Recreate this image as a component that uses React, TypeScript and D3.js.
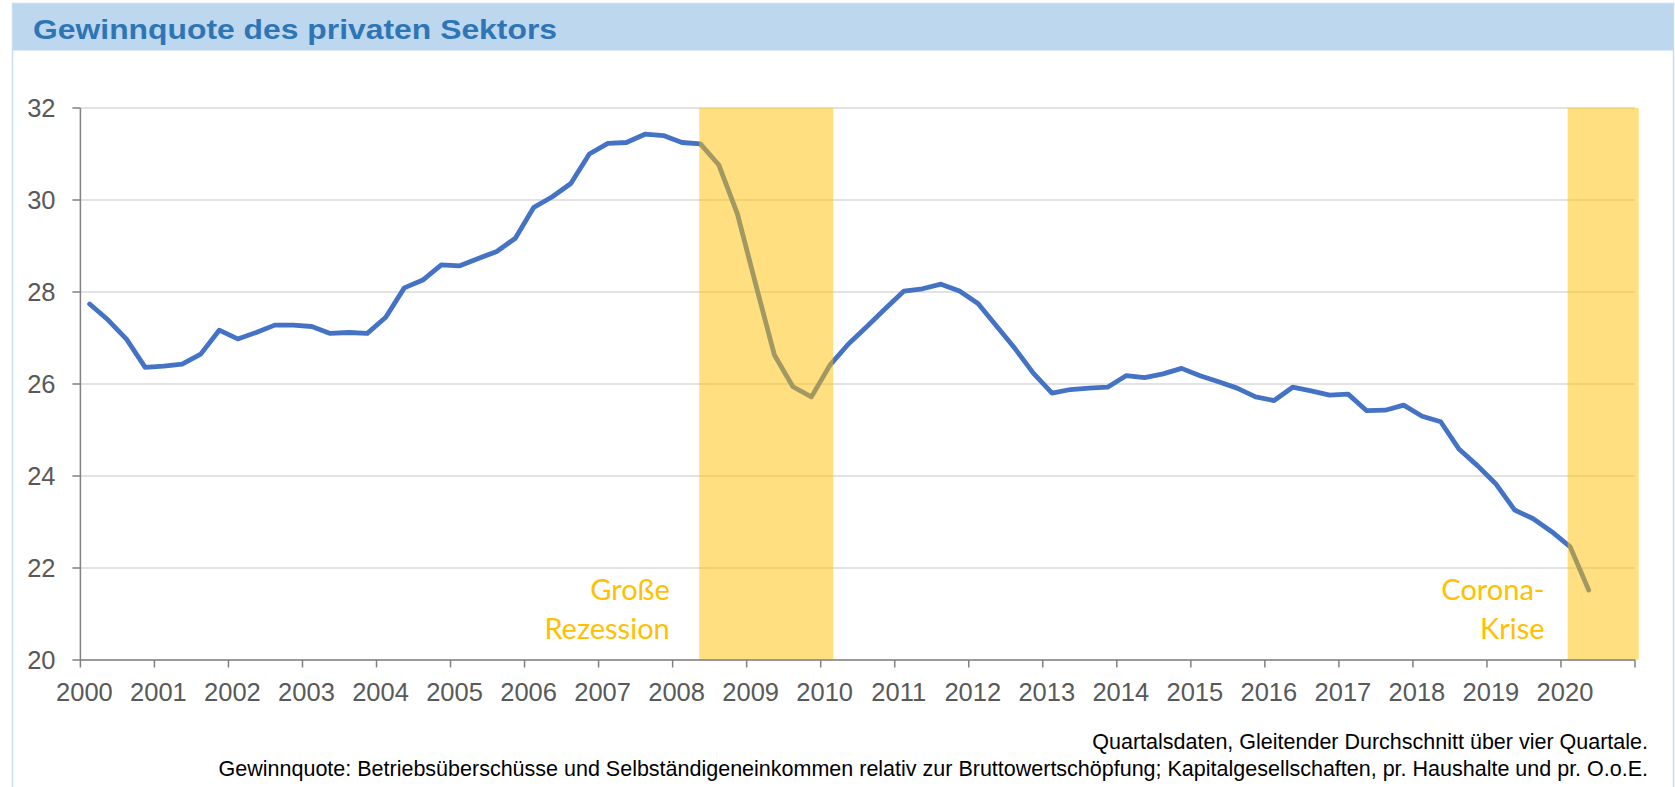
import React from "react";
import * as d3 from "d3";

// ---- data ----
const title = "Gewinnquote des privaten Sektors";
const startYear = 2000;
const yearTicks = [2000, 2001, 2002, 2003, 2004, 2005, 2006, 2007, 2008, 2009, 2010,
  2011, 2012, 2013, 2014, 2015, 2016, 2017, 2018, 2019, 2020, 2021];
const yearLabels = ["2000", "2001", "2002", "2003", "2004", "2005", "2006", "2007", "2008", "2009", "2010",
  "2011", "2012", "2013", "2014", "2015", "2016", "2017", "2018", "2019", "2020"];
const yTicks = [20, 22, 24, 26, 28, 30, 32];
// quarterly values, 2000Q1 .. 2020Q2
const profitShare = [
  27.74, 27.39, 26.97, 26.36,
  26.39, 26.43, 26.65, 27.17,
  26.98, 27.12, 27.28, 27.28,
  27.25, 27.10, 27.12, 27.10,
  27.45, 28.09, 28.26, 28.59,
  28.57, 28.73, 28.88, 29.17,
  29.84, 30.07, 30.36, 31.00,
  31.23, 31.25, 31.43, 31.40,
  31.25, 31.22, 30.76, 29.70,
  28.15, 26.63, 25.94, 25.72,
  26.41, 26.87, 27.25, 27.64,
  28.02, 28.07, 28.17, 28.02,
  27.75, 27.26, 26.77, 26.23,
  25.80, 25.88, 25.91, 25.93,
  26.18, 26.14, 26.22, 26.34,
  26.18, 26.05, 25.91, 25.72,
  25.64, 25.93, 25.85, 25.76,
  25.78, 25.42, 25.43, 25.54,
  25.30, 25.18, 24.58, 24.22,
  23.82, 23.26, 23.07, 22.79,
  22.46, 21.52,
];
const crisisStart = [2008.36, 2020.09];
const crisisEnd = [2010.17, 2021.05];
const crisisLabels = [["Große", "Rezession"], ["Corona-", "Krise"]];
const footnotes = [
  "Quartalsdaten, Gleitender Durchschnitt über vier Quartale.",
  "Gewinnquote: Betriebsüberschüsse und Selbständigeneinkommen relativ zur Bruttowertschöpfung; Kapitalgesellschaften, pr. Haushalte und pr. O.o.E.",
];

const W = 1675;
const H = 787;
const AXIS = "Liberation Sans, Arial, sans-serif";

export default function App() {
  const x = d3.scaleLinear().domain([2000, 2021]).range([80.4, 1635]);
  const y = d3.scaleLinear().domain([20, 32]).range([660, 108]);
  const pts = profitShare.map((v, i) => ({ t: startYear + (i + 0.5) / 4, v }));
  const line = d3
    .line<{ t: number; v: number }>()
    .x((d) => x(d.t))
    .y((d) => y(d.v));
  const [x0, x1] = x.range();

  return (
    <div style={{ position: "absolute", left: 0, top: 0 }}>
      <svg width={W} height={H} style={{ display: "block", background: "#fff" }}>
        {/* frame and title band */}
        <rect x={12.5} y={3.5} width={1661} height={H} fill="#fff" stroke="#C5DCF1" strokeWidth={1.5} />
        <rect x={13} y={4} width={1660} height={46.5} fill="#BDD7EE" />
        <text
          x={33}
          y={38.5}
          fontFamily={AXIS}
          fontWeight="bold"
          fontSize={27.5}
          fill="#2E75B6"
          textLength={524}
          lengthAdjust="spacingAndGlyphs"
        >
          {title}
        </text>

        {/* gridlines */}
        {yTicks.map((t) => (
          <line key={"g" + t} x1={x0} x2={x1} y1={y(t)} y2={y(t)} stroke="#D9D9D9" strokeWidth={1.5} />
        ))}

        {/* data line */}
        <path d={line(pts) || ""} fill="none" stroke="#4472C4" strokeWidth={4.8} strokeLinejoin="round" strokeLinecap="round" />

        {/* crisis bands (semi-transparent overlay) */}
        {crisisStart.map((s, i) => (
          <rect
            key={"b" + i}
            x={x(s)}
            y={y(32)}
            width={x(crisisEnd[i]) - x(s)}
            height={y(20) - y(32)}
            fill="#FFC000"
            fillOpacity={0.5}
          />
        ))}

        {/* axes */}
        <line x1={x0} x2={x0} y1={y(32)} y2={y(20)} stroke="#808080" strokeWidth={1.5} />
        <line x1={x0} x2={x1} y1={y(20)} y2={y(20)} stroke="#808080" strokeWidth={1.5} />
        {yTicks.map((t) => (
          <g key={"yt" + t}>
            <line x1={x0 - 8} x2={x0} y1={y(t)} y2={y(t)} stroke="#808080" strokeWidth={1.5} />
            <text x={55.5} y={y(t) + 9} textAnchor="end" fontFamily={AXIS} fontSize={25.5} fill="#595959">
              {t}
            </text>
          </g>
        ))}
        {yearTicks.map((t) => (
          <line key={"xt" + t} x1={x(t)} x2={x(t)} y1={y(20)} y2={y(20) + 7.5} stroke="#808080" strokeWidth={1.5} />
        ))}
        {yearLabels.map((l, i) => (
          <text key={"xl" + l} x={x(yearTicks[i]) + 4} y={700.5} textAnchor="middle" fontFamily={AXIS} fontSize={25.5} fill="#595959">
            {l}
          </text>
        ))}

        {/* crisis labels */}
        {crisisLabels.map((lines, i) => (
          <text
            key={"cl" + i}
            textAnchor="end"
            fontFamily="Lato, 'Open Sans', sans-serif"
            fontSize={29}
            fill="#FFC000"
          >
            <tspan x={x(crisisStart[i]) - (i === 0 ? 29.5 : 23)} y={600}>{lines[0]}</tspan>
            <tspan x={x(crisisStart[i]) - (i === 0 ? 29.5 : 23)} y={639}>{lines[1]}</tspan>
          </text>
        ))}

        {/* footnotes */}
        {footnotes.map((f, i) => (
          <text key={"f" + i} x={1648} y={748.5 + i * 27} textAnchor="end" fontFamily={AXIS} fontSize={21.5} fill="#000">
            {f}
          </text>
        ))}
      </svg>
    </div>
  );
}
